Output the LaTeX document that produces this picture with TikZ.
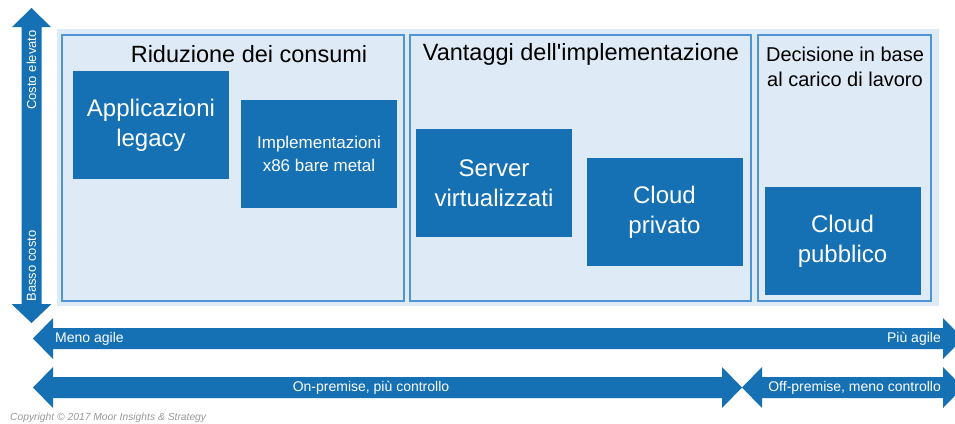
\documentclass[tikz,border=0pt]{standalone}
\usepackage{fontspec}
\setmainfont{Liberation Sans}
\usepackage{tikz}
\usetikzlibrary{arrows}
\usetikzlibrary{positioning}
\definecolor{dkblue}{RGB}{21,112,180}
\definecolor{ltblue}{RGB}{222,234,245}
\definecolor{edgeblue}{RGB}{80,148,210}

\begin{document}
\begin{tikzpicture}
	[x=1pt,y=-1pt,
	panel/.style={rectangle,draw=edgeblue,line width=1.3pt,inner sep=0pt},
	blockbox/.style={rectangle,fill=dkblue,text=white,inner sep=0pt,align=center,
		minimum width=156pt,minimum height=108pt,font=\fontsize{24}{30}\selectfont},
	heading/.style={inner sep=0pt,align=center,text=black},
	arrowlabel/.style={inner sep=0pt,text=white,font=\fontsize{14}{16}\selectfont}]
	\clip (0,0) rectangle (955,423);
	\fill[white] (0,0) rectangle (955,423);
	\fill[ltblue] (57,29) rectangle (939,306);
	\node[panel,minimum width=342pt,minimum height=266pt] (p1) at (233,168) {};
	\node[panel,minimum width=341pt,minimum height=266pt] (p2) at (580.5,168) {};
	\node[panel,minimum width=173pt,minimum height=266pt] (p3) at (844.5,168) {};
	
	\node[heading,font=\fontsize{23.5}{28}\selectfont] (t1) at (249,54) {Riduzione dei consumi};
	\node[heading,font=\fontsize{23.5}{28}\selectfont] (t2) at (581,54) {Vantaggi dell\textquotesingle implementazione};
	\node[heading,font=\fontsize{20}{25}\selectfont] (t3) at (845,67) {Decisione in base\\al carico di lavoro};
	
	\node[blockbox] (legacy) at (151,125) {Applicazioni\\legacy};
	\node[blockbox,font=\fontsize{17}{23}\selectfont] (bare) at (319,154) {Implementazioni\\x86 bare metal};
	\node[blockbox] (server) at (494,183) {Server\\virtualizzati};
	\node[blockbox] (private) at (664.5,212) {Cloud\\privato};
	\node[blockbox] (public) at (842.5,241) {Cloud\\pubblico};
	
	\fill[dkblue] (31.5,8) -- (51,27) -- (41.5,27) -- (41.5,304) -- (51.5,304) -- (31.5,323)
		-- (11.5,304) -- (21.5,304) -- (21.5,27) -- (12,27) -- cycle;
	\foreach \ya/\yb/\yc/\xa/\xb in {338.5/328/349/33/963, 387.5/377/398/33/742, 387.5/377/398/742/963}
	\fill[dkblue] (\xa,\ya) -- (\xa+20,\yb-10) -- (\xa+20,\yb) -- (\xb-20,\yb) -- (\xb-20,\yb-10)
		-- (\xb,\ya) -- (\xb-20,\yc+10) -- (\xb-20,\yc) -- (\xa+20,\yc) -- (\xa+20,\yc+10) -- cycle;
	
	\node[arrowlabel,font=\fontsize{13}{15}\selectfont,rotate=90] (high) at (31.5,70) {Costo elevato};
	\node[arrowlabel,font=\fontsize{13}{15}\selectfont,rotate=90] (low) at (31.5,266) {Basso costo};
	\node[arrowlabel,anchor=west] (lessagile) at (55,338.5) {Meno agile};
	\node[arrowlabel,anchor=east] (moreagile) at (941,338.5) {Più agile};
	\node[arrowlabel] (onprem) at (371,388) {On-premise, più controllo};
	\node[arrowlabel,anchor=east] (offprem) at (941,388) {Off-premise, meno controllo};
	\node[anchor=west,inner sep=0pt,text=black!40,font=\fontsize{10.3}{12}\itshape] (copy) at (10,417.5)
		{Copyright © 2017 Moor Insights \& Strategy};
\end{tikzpicture}
\end{document}
